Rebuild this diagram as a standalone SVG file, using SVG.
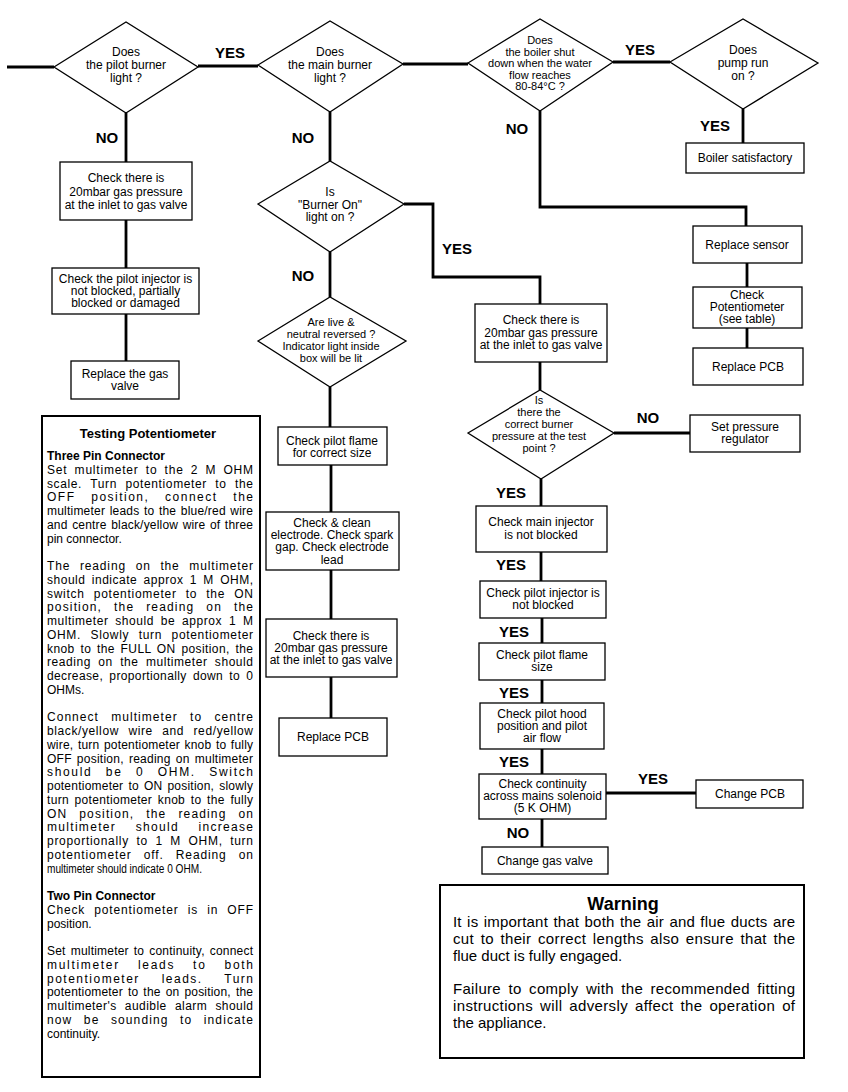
<svg xmlns="http://www.w3.org/2000/svg" width="848" height="1092" viewBox="0 0 848 1092">
<style>
text{font-family:"Liberation Sans",Arial,Helvetica,sans-serif;fill:#000}
.shape{fill:#fff;stroke:#000;stroke-width:1.3}
.frame{fill:#fff;stroke:#000;stroke-width:2}
.conn{fill:none;stroke:#000;stroke-width:2.8}
.t{font-size:12px;text-anchor:middle}
.ts{font-size:11px;text-anchor:middle}
.lbl{font-size:15px;font-weight:bold;text-anchor:middle}
.body{font-size:12px}
.bh{font-size:12px;font-weight:bold}
.wb{font-size:15px}
</style>
<rect width="848" height="1092" fill="#fff"/>
<g id="connectors">
<path class="conn" d="M7,67 H54"/>
<path class="conn" d="M198,66 H258"/>
<path class="conn" d="M403,64 H468"/>
<path class="conn" d="M613,62 H670"/>
<path class="conn" d="M743,109 V143"/>
<path class="conn" d="M540,111 V207 H746 V226"/>
<path class="conn" d="M747,263 V287"/>
<path class="conn" d="M747,328 V348"/>
<path class="conn" d="M126,113 V162"/>
<path class="conn" d="M126,220 V268"/>
<path class="conn" d="M126,314 V361"/>
<path class="conn" d="M330,112 V161"/>
<path class="conn" d="M404,204 H433 V277 H540 V304"/>
<path class="conn" d="M330,252 V297"/>
<path class="conn" d="M330,387 V427"/>
<path class="conn" d="M331,465 V512"/>
<path class="conn" d="M331,570 V619"/>
<path class="conn" d="M331,677 V718"/>
<path class="conn" d="M540,362 V390"/>
<path class="conn" d="M614,433 H690"/>
<path class="conn" d="M541,479 V506"/>
<path class="conn" d="M541,552 V581"/>
<path class="conn" d="M542,618 V643"/>
<path class="conn" d="M542,680 V703"/>
<path class="conn" d="M542,749 V774"/>
<path class="conn" d="M606,793 H696"/>
<path class="conn" d="M542,819 V847"/>
</g>
<g id="labels">
<text class="lbl" x="230" y="57.5">YES</text>
<text class="lbl" x="640" y="54.5">YES</text>
<text class="lbl" x="107" y="142.5">NO</text>
<text class="lbl" x="303" y="142.5">NO</text>
<text class="lbl" x="517" y="133.5">NO</text>
<text class="lbl" x="715" y="130.5">YES</text>
<text class="lbl" x="457" y="253.5">YES</text>
<text class="lbl" x="303" y="280.5">NO</text>
<text class="lbl" x="648" y="422.5">NO</text>
<text class="lbl" x="511" y="497.5">YES</text>
<text class="lbl" x="511" y="569.5">YES</text>
<text class="lbl" x="514" y="636.5">YES</text>
<text class="lbl" x="514" y="697.5">YES</text>
<text class="lbl" x="514" y="766.5">YES</text>
<text class="lbl" x="518" y="837.5">NO</text>
<text class="lbl" x="653" y="783.5">YES</text>
</g>
<g id="d-pilot">
<polygon class="shape" points="54,67 126,22 198,67 126,113"/>
<text class="t"><tspan x="126" y="56">Does</tspan><tspan x="126" y="69">the pilot burner</tspan><tspan x="126" y="82">light ?</tspan></text>
</g>
<g id="d-main">
<polygon class="shape" points="258,65 330,21 403,64 330,112"/>
<text class="t"><tspan x="330" y="56">Does</tspan><tspan x="330" y="69">the main burner</tspan><tspan x="330" y="82">light ?</tspan></text>
</g>
<g id="d-boiler">
<polygon class="shape" points="468,63 540,19 613,62 540,111"/>
<text class="ts"><tspan x="540" y="44">Does</tspan><tspan x="540" y="55.5">the boiler shut</tspan><tspan x="540" y="67">down when the water</tspan><tspan x="540" y="78.5">flow reaches</tspan><tspan x="540" y="90">80-84°C ?</tspan></text>
</g>
<g id="d-pump">
<polygon class="shape" points="670,62 743,19 818,63 743,109"/>
<text class="t"><tspan x="743" y="54">Does</tspan><tspan x="743" y="67">pump run</tspan><tspan x="743" y="80">on ?</tspan></text>
</g>
<g id="d-burneron">
<polygon class="shape" points="258,204 330,161 404,204 330,252"/>
<text class="t"><tspan x="330" y="196">Is</tspan><tspan x="330" y="208.5">"Burner On"</tspan><tspan x="330" y="221">light on ?</tspan></text>
</g>
<g id="d-live">
<polygon class="shape" points="258,341 330,297 406,341 330,387"/>
<text class="ts"><tspan x="331" y="326">Are live &amp;</tspan><tspan x="331" y="338">neutral reversed ?</tspan><tspan x="331" y="350">Indicator light inside</tspan><tspan x="331" y="362">box will be lit</tspan></text>
</g>
<g id="d-pressure">
<polygon class="shape" points="468,433 540,390 614,433 541,479"/>
<text class="ts"><tspan x="539" y="404">Is</tspan><tspan x="539" y="416">there the</tspan><tspan x="539" y="428">correct burner</tspan><tspan x="539" y="440">pressure at the test</tspan><tspan x="539" y="452">point ?</tspan></text>
</g>
<g id="b-pilot-gas">
<rect class="shape" x="60" y="162" width="132" height="58"/>
<text class="t"><tspan x="126" y="182">Check there is</tspan><tspan x="126" y="195.5">20mbar gas pressure</tspan><tspan x="126" y="209">at the inlet to gas valve</tspan></text>
</g>
<g id="b-pilot-injector">
<rect class="shape" x="52" y="268" width="147" height="46"/>
<text class="t"><tspan x="125.5" y="283">Check the pilot injector is</tspan><tspan x="125.5" y="295">not blocked, partially</tspan><tspan x="125.5" y="307">blocked or damaged</tspan></text>
</g>
<g id="b-replace-valve">
<rect class="shape" x="71" y="361" width="108" height="38"/>
<text class="t"><tspan x="125" y="378">Replace the gas</tspan><tspan x="125" y="390">valve</tspan></text>
</g>
<g id="b-flame-size">
<rect class="shape" x="278" y="427" width="109" height="38"/>
<text class="t"><tspan x="332" y="445">Check pilot flame</tspan><tspan x="332" y="457">for correct size</tspan></text>
</g>
<g id="b-electrode">
<rect class="shape" x="266" y="512" width="133" height="58"/>
<text class="t"><tspan x="332" y="526.5">Check &amp; clean</tspan><tspan x="332" y="538.8">electrode. Check spark</tspan><tspan x="332" y="551.2">gap. Check electrode</tspan><tspan x="332" y="563.5">lead</tspan></text>
</g>
<g id="b-mid-gas">
<rect class="shape" x="266" y="619" width="131" height="58"/>
<text class="t"><tspan x="331" y="640">Check there is</tspan><tspan x="331" y="652">20mbar gas pressure</tspan><tspan x="331" y="664">at the inlet to gas valve</tspan></text>
</g>
<g id="b-mid-pcb">
<rect class="shape" x="279" y="718" width="108" height="38"/>
<text class="t" x="333" y="741">Replace PCB</text>
</g>
<g id="b-boiler-ok">
<rect class="shape" x="686" y="143" width="118" height="30"/>
<text class="t" x="745" y="162">Boiler satisfactory</text>
</g>
<g id="b-sensor">
<rect class="shape" x="693" y="226" width="109" height="37"/>
<text class="t" x="747" y="248.5">Replace sensor</text>
</g>
<g id="b-pot">
<rect class="shape" x="693" y="287" width="109" height="41"/>
<text class="t"><tspan x="747" y="299">Check</tspan><tspan x="747" y="311">Potentiometer</tspan><tspan x="747" y="323">(see table)</tspan></text>
</g>
<g id="b-right-pcb">
<rect class="shape" x="693" y="348" width="110" height="37"/>
<text class="t" x="748" y="370.5">Replace PCB</text>
</g>
<g id="b-right-gas">
<rect class="shape" x="475" y="304" width="132" height="58"/>
<text class="t"><tspan x="541" y="324">Check there is</tspan><tspan x="541" y="337">20mbar gas pressure</tspan><tspan x="541" y="349">at the inlet to gas valve</tspan></text>
</g>
<g id="b-regulator">
<rect class="shape" x="690" y="415" width="110" height="37"/>
<text class="t"><tspan x="745" y="431">Set pressure</tspan><tspan x="745" y="443">regulator</tspan></text>
</g>
<g id="b-main-injector">
<rect class="shape" x="476" y="506" width="131" height="46"/>
<text class="t"><tspan x="541" y="526">Check main injector</tspan><tspan x="541" y="539">is not blocked</tspan></text>
</g>
<g id="b-pilot-injector2">
<rect class="shape" x="480" y="581" width="126" height="37"/>
<text class="t"><tspan x="543" y="597">Check pilot injector is</tspan><tspan x="543" y="609">not blocked</tspan></text>
</g>
<g id="b-flame2">
<rect class="shape" x="479" y="643" width="126" height="37"/>
<text class="t"><tspan x="542" y="659">Check pilot flame</tspan><tspan x="542" y="671">size</tspan></text>
</g>
<g id="b-hood">
<rect class="shape" x="480" y="703" width="124" height="46"/>
<text class="t"><tspan x="542" y="718">Check pilot hood</tspan><tspan x="542" y="730">position and pilot</tspan><tspan x="542" y="742">air flow</tspan></text>
</g>
<g id="b-continuity">
<rect class="shape" x="479" y="774" width="127" height="45"/>
<text class="t"><tspan x="542.5" y="788">Check continuity</tspan><tspan x="542.5" y="800">across mains solenoid</tspan><tspan x="542.5" y="812">(5 K OHM)</tspan></text>
</g>
<g id="b-change-pcb">
<rect class="shape" x="696" y="780" width="107" height="28"/>
<text class="t" x="750" y="798">Change PCB</text>
</g>
<g id="b-change-valve">
<rect class="shape" x="482" y="847" width="126" height="27"/>
<text class="t" x="545" y="864.5">Change gas valve</text>
</g>
<g id="testing-potentiometer">
<rect class="frame" x="42" y="416" width="218" height="661"/>
<text x="148" y="438" style="font-size:13px;font-weight:bold;text-anchor:middle">Testing Potentiometer</text>
<text class="bh" x="47" y="460">Three Pin Connector</text>
<g class="body">
<text x="47" y="473.8" textLength="206" lengthAdjust="spacing" word-spacing="3">Set multimeter to the 2 M OHM</text>
<text x="47" y="487.6" textLength="206" lengthAdjust="spacing" word-spacing="4.5">scale. Turn potentiometer to the</text>
<text x="47" y="501.3" textLength="206" lengthAdjust="spacing" word-spacing="11">OFF position, connect the</text>
<text x="47" y="515.1" textLength="206" lengthAdjust="spacing" word-spacing="1">multimeter leads to the blue/red wire</text>
<text x="47" y="528.8" textLength="206" lengthAdjust="spacing" word-spacing="1">and centre black/yellow wire of three</text>
<text x="47" y="542.6">pin connector.</text>
<text x="47" y="570.1" textLength="206" lengthAdjust="spacing" word-spacing="5.5">The reading on the multimeter</text>
<text x="47" y="583.8" textLength="206" lengthAdjust="spacing" word-spacing="2.5">should indicate approx 1 M OHM,</text>
<text x="47" y="597.6" textLength="206" lengthAdjust="spacing" word-spacing="5">switch potentiometer to the ON</text>
<text x="47" y="611.3" textLength="206" lengthAdjust="spacing" word-spacing="7.5">position, the reading on the</text>
<text x="47" y="625.1" textLength="206" lengthAdjust="spacing" word-spacing="3">multimeter should be approx 1 M</text>
<text x="47" y="638.8" textLength="206" lengthAdjust="spacing" word-spacing="5.5">OHM. Slowly turn potentiometer</text>
<text x="47" y="652.6" textLength="206" lengthAdjust="spacing" word-spacing="2">knob to the FULL ON position, the</text>
<text x="47" y="666.3" textLength="206" lengthAdjust="spacing" word-spacing="3.5">reading on the multimeter should</text>
<text x="47" y="680.1" textLength="206" lengthAdjust="spacing" word-spacing="2.5">decrease, proportionally down to 0</text>
<text x="47" y="693.8">OHMs.</text>
<text x="47" y="721.3" textLength="206" lengthAdjust="spacing" word-spacing="8">Connect multimeter to centre</text>
<text x="47" y="735.1" textLength="206" lengthAdjust="spacing" word-spacing="5.5">black/yellow wire and red/yellow</text>
<text x="47" y="748.8" textLength="206" lengthAdjust="spacing" word-spacing="1">wire, turn potentiometer knob to fully</text>
<text x="47" y="762.6" textLength="206" lengthAdjust="spacing" word-spacing="1.5">OFF position, reading on multimeter</text>
<text x="47" y="776.3" textLength="206" lengthAdjust="spacing" word-spacing="8.5">should be 0 OHM. Switch</text>
<text x="47" y="790.1" textLength="206" lengthAdjust="spacing" word-spacing="1.5">potentiometer to ON position, slowly</text>
<text x="47" y="803.8" textLength="206" lengthAdjust="spacing" word-spacing="2">turn potentiometer knob to the fully</text>
<text x="47" y="817.6" textLength="206" lengthAdjust="spacing" word-spacing="7.5">ON position, the reading on</text>
<text x="47" y="831.3" textLength="206" lengthAdjust="spacing" word-spacing="15">multimeter should increase</text>
<text x="47" y="845.1" textLength="206" lengthAdjust="spacing" word-spacing="3.5">proportionally to 1 M OHM, turn</text>
<text x="47" y="858.8" textLength="206" lengthAdjust="spacing" word-spacing="8">potentiometer off. Reading on</text>
<text x="47" y="872.6" textLength="155" lengthAdjust="spacingAndGlyphs">multimeter should indicate 0 OHM.</text>
<text class="bh" x="47" y="900.1">Two Pin Connector</text>
<text x="47" y="913.8" textLength="206" lengthAdjust="spacing" word-spacing="5">Check potentiometer is in OFF</text>
<text x="47" y="927.6">position.</text>
<text x="47" y="955.1" textLength="206" lengthAdjust="spacing" word-spacing="1.5">Set multimeter to continuity, connect</text>
<text x="47" y="968.8" textLength="206" lengthAdjust="spacing" word-spacing="13">multimeter leads to both</text>
<text x="47" y="982.6" textLength="206" lengthAdjust="spacing" word-spacing="17">potentiometer leads. Turn</text>
<text x="47" y="996.3" textLength="206" lengthAdjust="spacing" word-spacing="1.5">potentiometer to the on position, the</text>
<text x="47" y="1010.1" textLength="206" lengthAdjust="spacing" word-spacing="4.5">multimeter's audible alarm should</text>
<text x="47" y="1023.8" textLength="206" lengthAdjust="spacing" word-spacing="7">now be sounding to indicate</text>
<text x="47" y="1037.6">continuity.</text>
</g>
</g>
<g id="warning">
<rect class="frame" x="440" y="885" width="364" height="173"/>
<text x="623" y="909.5" style="font-size:18px;font-weight:bold;text-anchor:middle">Warning</text>
<g class="wb">
<text x="453" y="927.3" textLength="342" lengthAdjust="spacing" word-spacing="1">It is important that both the air and flue ducts are</text>
<text x="453" y="944" textLength="342" lengthAdjust="spacing" word-spacing="2">cut to their correct lengths also ensure that the</text>
<text x="453" y="960.7">flue duct is fully engaged.</text>
<text x="453" y="994.1" textLength="342" lengthAdjust="spacing" word-spacing="3">Failure to comply with the recommended fitting</text>
<text x="453" y="1010.8" textLength="342" lengthAdjust="spacing" word-spacing="2.5">instructions will adversly affect the operation of</text>
<text x="453" y="1027.5">the appliance.</text>
</g>
</g>
</svg>
